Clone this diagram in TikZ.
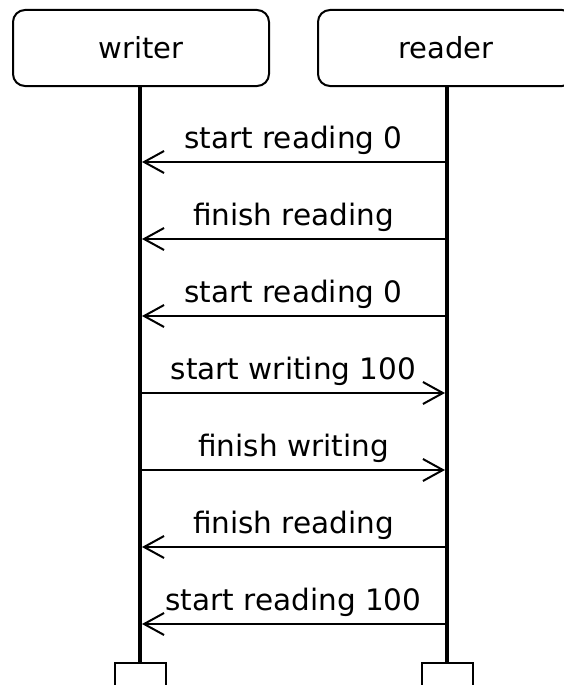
\documentclass[tikz,border=0pt]{standalone}
\usepackage{fontspec}
\setmainfont{DejaVu Sans}
\usetikzlibrary{arrows.meta}
\tikzset{
  actor/.style={draw, line width=2pt, rounded corners=12pt, minimum width=256pt, minimum height=76pt, inner sep=0pt, font=\fontsize{29}{33}\selectfont},
  endbox/.style={draw, line width=2pt, minimum width=51pt, minimum height=40pt, inner sep=0pt},
  lifeline/.style={line width=4.5pt},
  msg/.style={line width=2pt, -{Straight Barb[length=20pt,width=22pt,line width=2pt]}},
  lbl/.style={font=\fontsize{29.5}{33}\selectfont, inner sep=0pt, anchor=base}
}
\begin{document}
\begin{tikzpicture}[x=1pt,y=-1pt]
\useasboundingbox (0,0) rectangle (564,685);
\node[actor] (writer) at (141,48) {writer};
\node[actor] (reader) at (446,48) {reader};
\node[endbox, anchor=north] (wend) at (140,662) {};
\node[endbox, anchor=north] (rend) at (447,662) {};
\draw[lifeline] (writer.south -| wend.north) -- (wend.north);
\draw[lifeline] (reader.south -| rend.north) -- (rend.north);
\foreach \i/\y in {1/162,2/239,3/316,4/393,5/470,6/547,7/624}{
  \coordinate (w\i) at (142,\y);
  \coordinate (r\i) at (445,\y);
}
\draw[msg] (r1) -- (w1) node[lbl, midway, yshift=14pt] (m1) {start reading 0};
\draw[msg] (r2) -- (w2) node[lbl, midway, yshift=14pt] (m2) {finish reading};
\draw[msg] (r3) -- (w3) node[lbl, midway, yshift=14pt] (m3) {start reading 0};
\draw[msg] (w4) -- (r4) node[lbl, midway, yshift=14pt] (m4) {start writing 100};
\draw[msg] (w5) -- (r5) node[lbl, midway, yshift=14pt] (m5) {finish writing};
\draw[msg] (r6) -- (w6) node[lbl, midway, yshift=14pt] (m6) {finish reading};
\draw[msg] (r7) -- (w7) node[lbl, midway, yshift=14pt] (m7) {start reading 100};
\end{tikzpicture}
\end{document}
